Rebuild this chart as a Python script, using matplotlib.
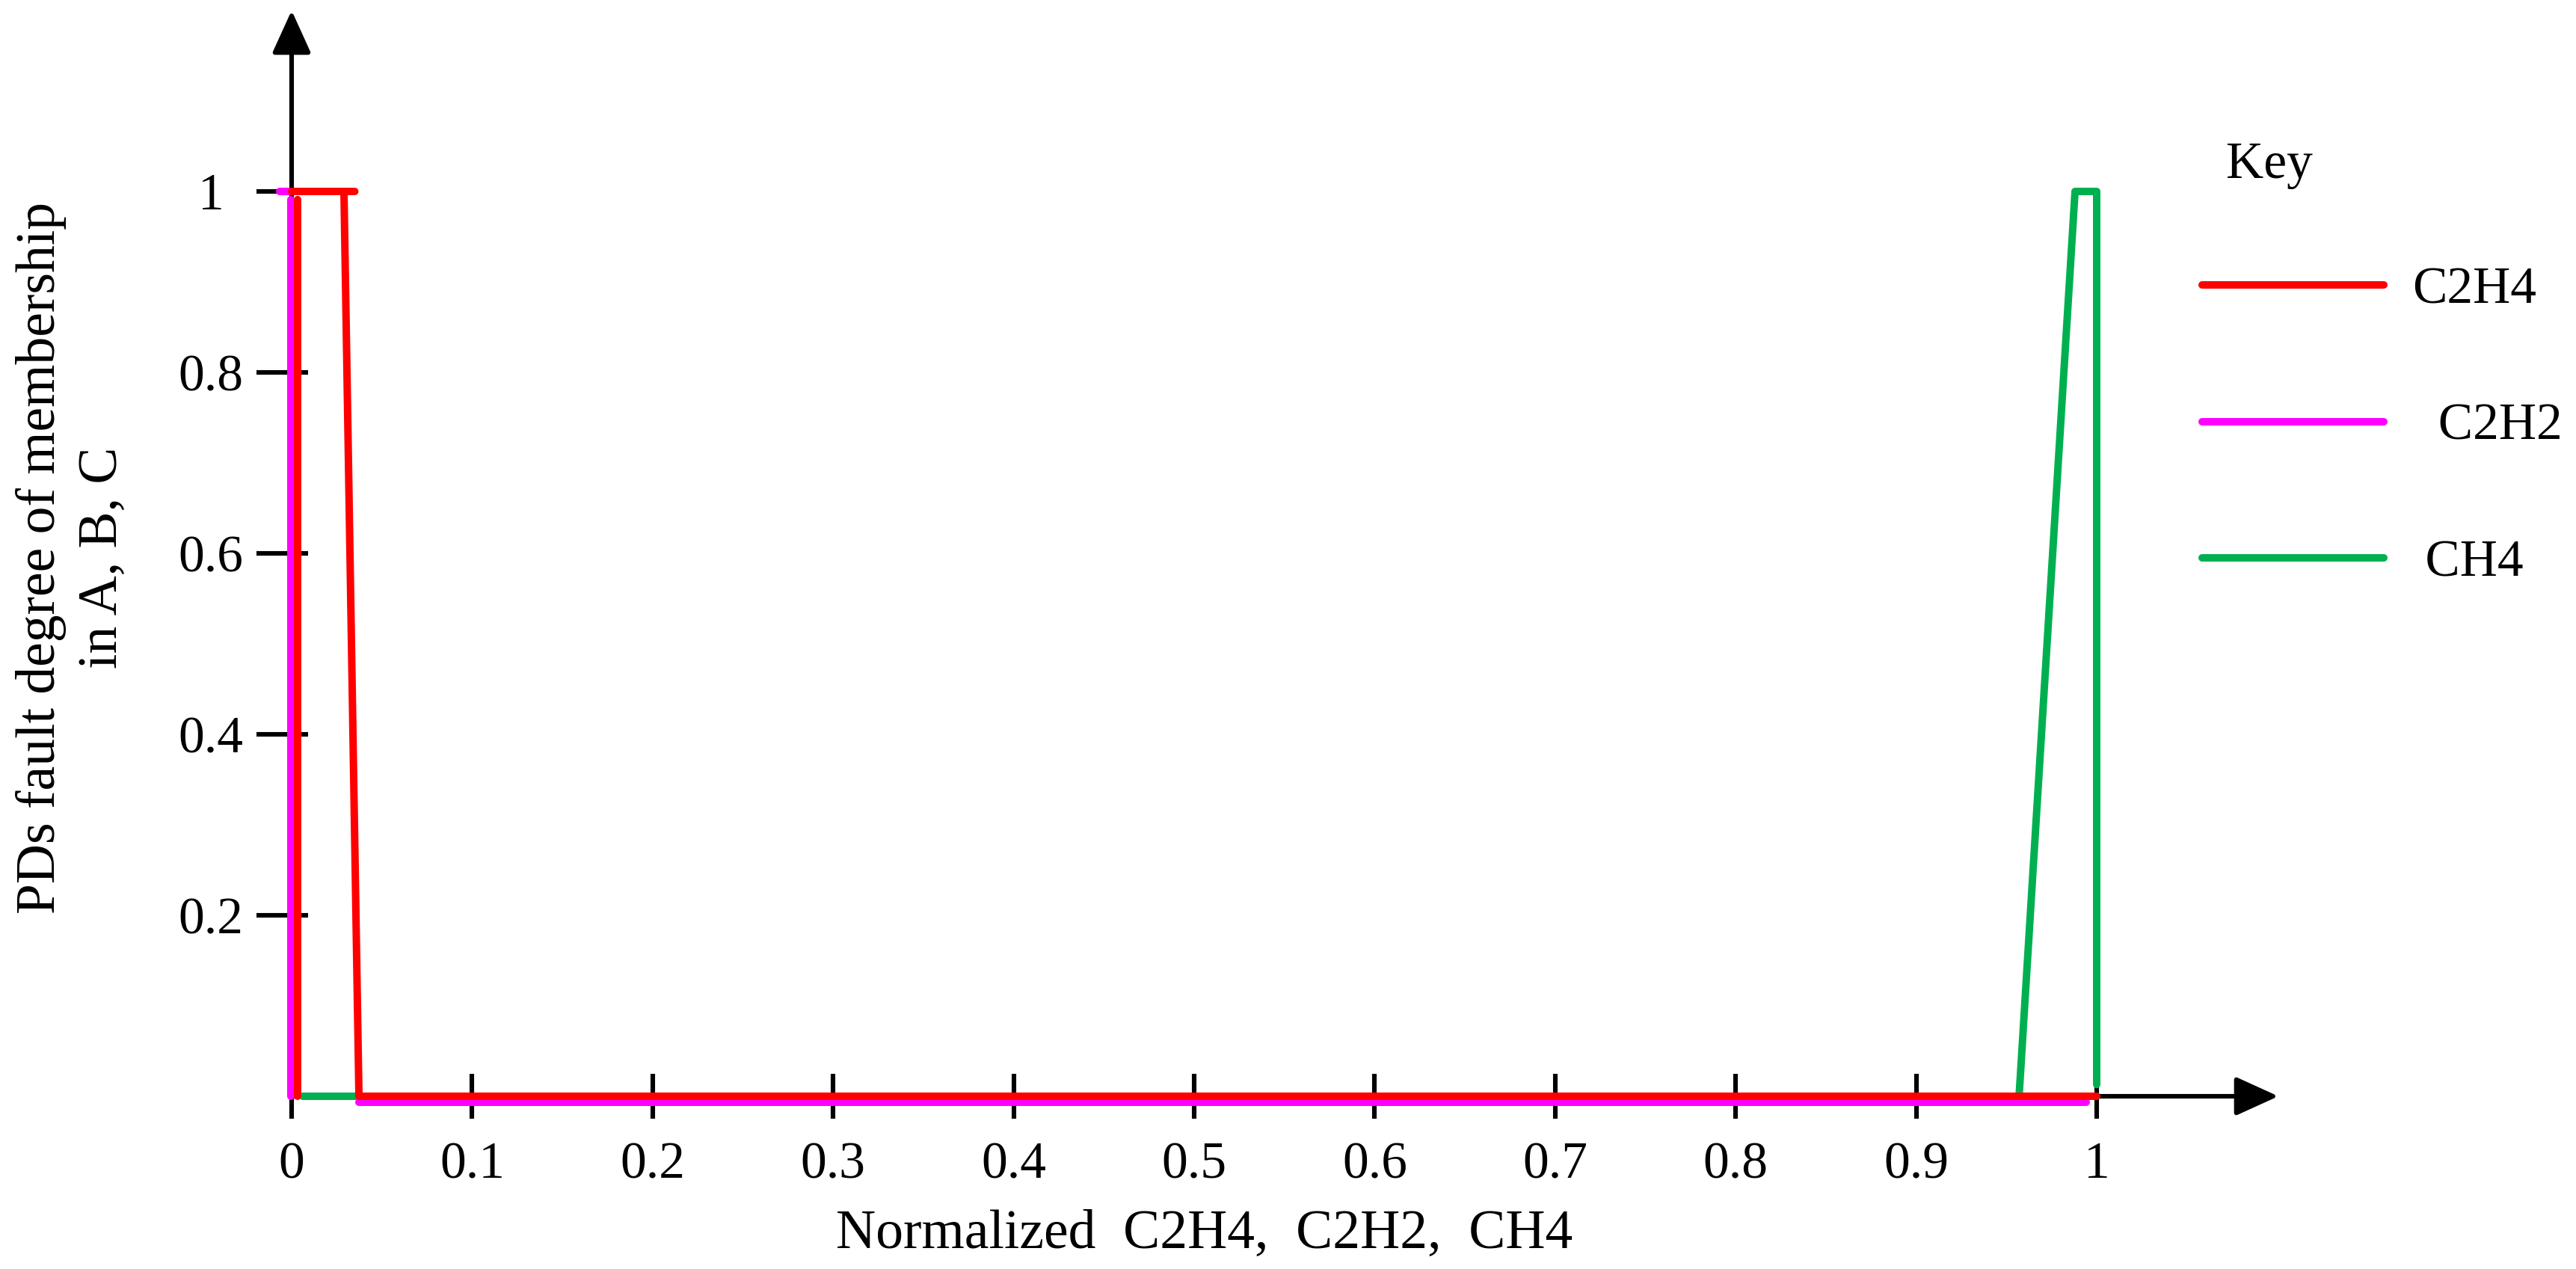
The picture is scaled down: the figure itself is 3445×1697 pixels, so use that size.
import numpy as np
import matplotlib
matplotlib.use("Agg")
import matplotlib.pyplot as plt

plt.rcParams['font.family'] = ['Liberation Serif', 'DejaVu Serif']

nan = np.nan
# ---- data ----
c2h4_x = [0.0033, 0.0033, nan, 0.0, 0.035, nan, 0.029, 0.0373, 1.0]
c2h4_y = [0.0, 0.991, nan, 1.0, 1.0, nan, 1.0, 0.0, 0.0]

c2h2_x = [-0.0066, 0.0, nan, -0.0006, -0.0006, nan, 0.0373, 0.994]
c2h2_y = [1.0, 1.0, nan, 0.991, 0.0, nan, -0.0066, -0.0066]

ch4_x = [0.0062, 0.0406, nan, 0.957, 0.988, 1.0, 1.0]
ch4_y = [0.0, 0.0, nan, 0.0, 1.0, 1.0, 0.013]

series_names = ['C2H4', '  C2H2', ' CH4']
xticks = [0, 0.1, 0.2, 0.3, 0.4, 0.5, 0.6, 0.7, 0.8, 0.9, 1.0]
xtick_labels = ['0', '0.1', '0.2', '0.3', '0.4', '0.5', '0.6', '0.7', '0.8', '0.9', '1']
yticks = [0.2, 0.4, 0.6, 0.8, 1.0]
ytick_labels = ['0.2', '0.4', '0.6', '0.8', '1']

W, H = 3445, 1697
fig = plt.figure(figsize=(W / 200, H / 200), dpi=200)
ax = fig.add_axes([390 / W, 1 - 1466 / H, (3047 - 390) / W, (1466 - 14) / H])
ax.set_xlim(0, (3047 - 390) / 2414)
ax.set_ylim(0, (1466 - 14) / 1210)

for s in ax.spines.values():
    s.set_visible(False)

lw = 3.6
kw = dict(lw=lw, solid_capstyle='round', solid_joinstyle='round', clip_on=False)
g, = ax.plot(ch4_x, ch4_y, color='#00B050', zorder=3, **kw)
m, = ax.plot(c2h2_x, c2h2_y, color='#FF00FF', zorder=4, **kw)
r, = ax.plot(c2h4_x, c2h4_y, color='#FF0000', zorder=5, **kw)

# axes with arrows
arrow = dict(arrowstyle='-|>,head_length=1.76,head_width=0.8', mutation_scale=10,
             lw=2.2, color='black', shrinkA=0, shrinkB=0)
ax.annotate('', xy=(1, 0), xytext=(0, 0), xycoords='axes fraction',
            arrowprops=arrow, annotation_clip=False, zorder=1)
ax.annotate('', xy=(0, 1), xytext=(0, 0), xycoords='axes fraction',
            arrowprops=arrow, annotation_clip=False, zorder=1)

fs = 25
lfs = 26.5
ax.set_xticks(xticks, labels=xtick_labels)
ax.tick_params(axis='x', direction='inout', length=21.6, width=2.2, pad=11,
               labelsize=fs, colors='black')
ax.set_yticks(yticks, labels=ytick_labels, ha='center')
ax.set_yticks(yticks, minor=True)
ax.yaxis.remove_overlapping_locs = False
ax.tick_params(axis='y', which='major', direction='out', length=16.9, width=2.2,
               pad=22, labelsize=fs)
ax.tick_params(axis='y', which='minor', direction='in', length=7.9, width=2.2)

ax.set_xlabel('Normalized  C2H4,  C2H2,  CH4', fontsize=lfs)
ax.xaxis.set_label_coords((1611 - 390) / 2657, (1466 - 1617) / 1452)
ax.set_ylabel('PDs fault degree of membership\nin A, B, C', fontsize=lfs,
              linespacing=1.3)
ax.yaxis.set_label_coords((172 - 390) / 2657, 0.496)

ax.legend([r, m, g], series_names, loc='upper left',
          bbox_to_anchor=(2945 / W, 1 - 357 / H), bbox_transform=fig.transFigure,
          frameon=False, borderpad=0, borderaxespad=0, handlelength=3.5,
          handletextpad=0.55, labelspacing=1.71, fontsize=fs)
fig.text(2977 / W, 1 - 238 / H, 'Key', ha='left', va='baseline', fontsize=fs)

fig.savefig('out.png', dpi=200)
